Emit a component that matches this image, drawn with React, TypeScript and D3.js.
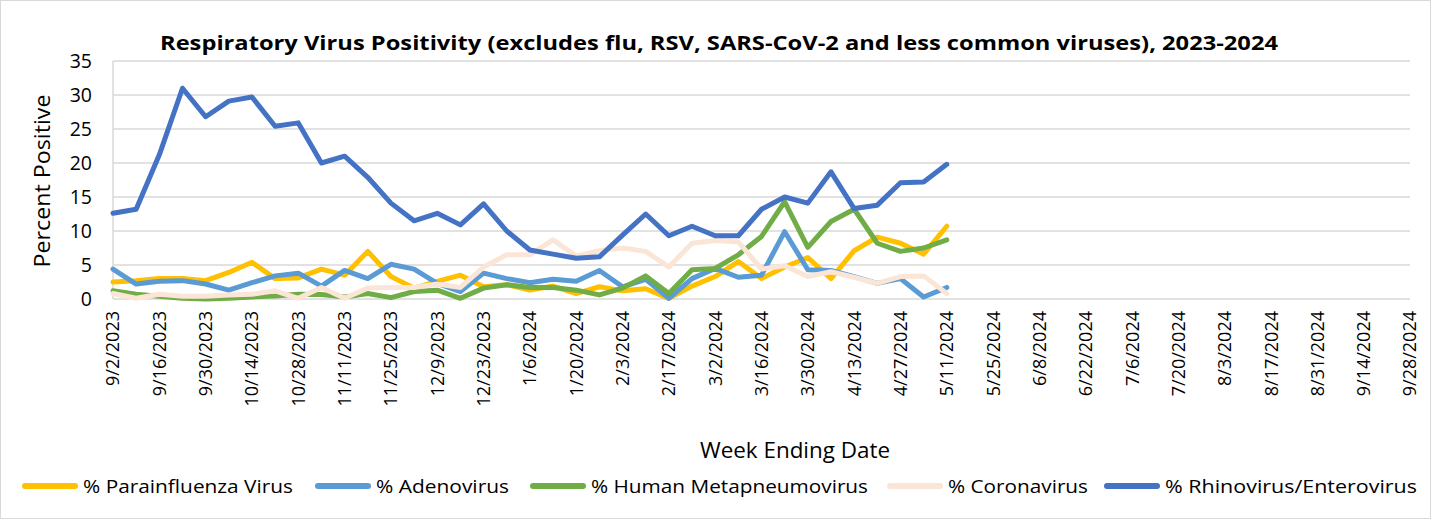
import React, { useEffect } from 'react';
import * as d3 from 'd3';

// week ending dates, 9/2/2023 .. 9/28/2024
const weeks = [
  '9/2/2023', '9/9/2023', '9/16/2023', '9/23/2023', '9/30/2023', '10/7/2023', '10/14/2023', '10/21/2023',
  '10/28/2023', '11/4/2023', '11/11/2023', '11/18/2023', '11/25/2023', '12/2/2023', '12/9/2023', '12/16/2023',
  '12/23/2023', '12/30/2023', '1/6/2024', '1/13/2024', '1/20/2024', '1/27/2024', '2/3/2024', '2/10/2024',
  '2/17/2024', '2/24/2024', '3/2/2024', '3/9/2024', '3/16/2024', '3/23/2024', '3/30/2024', '4/6/2024',
  '4/13/2024', '4/20/2024', '4/27/2024', '5/4/2024', '5/11/2024', '5/18/2024', '5/25/2024', '6/1/2024',
  '6/8/2024', '6/15/2024', '6/22/2024', '6/29/2024', '7/6/2024', '7/13/2024', '7/20/2024', '7/27/2024',
  '8/3/2024', '8/10/2024', '8/17/2024', '8/24/2024', '8/31/2024', '9/7/2024', '9/14/2024', '9/21/2024',
  '9/28/2024'
];

const yTicks = [0, 5, 10, 15, 20, 25, 30, 35];

const parainfluenza = [2.5, 2.7, 3.0, 3.0, 2.7, 3.9, 5.4, 3.0, 3.1, 4.4, 3.5, 7.0, 3.3, 1.6, 2.6, 3.5, 1.8, 2.1, 1.3, 1.9,
  0.8, 1.8, 1.2, 1.5, 0.1, 1.9, 3.3, 5.5, 3.0, 4.7, 6.1, 3.0, 7.1, 9.1, 8.2, 6.6, 10.7];
const adenovirus = [4.4, 2.2, 2.6, 2.7, 2.2, 1.3, 2.4, 3.4, 3.8, 1.9, 4.2, 3.0, 5.1, 4.4, 2.3, 1.1, 3.8, 3.0, 2.4, 2.9,
  2.6, 4.2, 1.8, 2.9, 0.1, 3.0, 4.5, 3.2, 3.5, 9.9, 4.3, 4.2, 3.3, 2.3, 3.0, 0.3, 1.7];
const hmpv = [1.2, 0.7, 0.4, 0.1, 0.0, 0.1, 0.3, 0.45, 0.7, 0.65, 0.3, 0.8, 0.2, 1.1, 1.3, 0.1, 1.6, 2.1, 1.7, 1.7,
  1.3, 0.6, 1.6, 3.4, 0.8, 4.3, 4.5, 6.5, 9.2, 14.3, 7.6, 11.4, 13.2, 8.2, 7.0, 7.5, 8.7];
const coronavirus = [0.8, 0.1, 0.7, 0.4, 0.4, 0.6, 0.7, 1.2, 0.1, 1.7, 0.1, 1.6, 1.7, 1.7, 2.2, 1.7, 4.7, 6.5, 6.5, 8.7,
  6.3, 7.1, 7.5, 7.0, 4.7, 8.2, 8.6, 8.4, 4.4, 4.9, 3.3, 4.0, 3.2, 2.3, 3.3, 3.4, 0.8];
const rhinovirus = [12.6, 13.2, 21.2, 31.0, 26.8, 29.1, 29.7, 25.4, 25.9, 20.0, 21.0, 17.9, 14.1, 11.5, 12.6, 10.9, 14.0,
  10.0, 7.2, 6.6, 6.0, 6.2, 9.4, 12.5, 9.3, 10.7, 9.3, 9.3, 13.2, 15.0, 14.1, 18.7, 13.3, 13.8, 17.1, 17.2, 19.8];

const seriesNames = ['% Parainfluenza Virus', '% Adenovirus', '% Human Metapneumovirus', '% Coronavirus', '% Rhinovirus/Enterovirus'];
const seriesValues = [parainfluenza, adenovirus, hmpv, coronavirus, rhinovirus];
const colors = ['#FFC000', '#5B9BD5', '#70AD47', '#FBE5D6', '#4472C4'];

const W = 1432, H = 520;
const font = '"Open Sans", "Liberation Sans", sans-serif';

export default function App() {
  useEffect(() => {
    document.body.style.margin = '0';
  }, []);

  const x = d3.scalePoint<string>().domain(weeks).range([113, 1410]);
  const y = d3.scaleLinear().domain([0, 35]).range([299, 61]);
  const line = d3.line<number>()
    .x((d, i) => x(weeks[i]) as number)
    .y(d => y(d));

  // legend layout (sample start, text width)
  const legendX = [25, 318, 533, 890, 1107];
  const legendW = [210, 133, 277, 140, 252];

  return (
    <svg width={W} height={H} style={{ display: 'block', background: '#fff' }} fontFamily={font}>
      <rect x={0.5} y={0.5} width={W - 2} height={H - 2} fill="#fff" stroke="#D9D9D9" />
      <text x={719} y={50} textAnchor="middle" fontSize={20} fontWeight="bold" fill="#000"
        textLength={1118} lengthAdjust="spacingAndGlyphs">
        Respiratory Virus Positivity (excludes flu, RSV, SARS-CoV-2 and less common viruses), 2023-2024
      </text>

      {yTicks.map(t => (
        <g key={t}>
          <line x1={113} x2={1410} y1={y(t)} y2={y(t)} stroke="#D9D9D9" strokeWidth={1.5} />
          <text x={92} y={y(t)} dy="0.35em" textAnchor="end" fontSize={19.5} fill="#000">{t}</text>
        </g>
      ))}
      <line x1={113} x2={113} y1={61} y2={299} stroke="#D9D9D9" strokeWidth={1.5} />

      <text transform={`translate(50,181) rotate(-90)`} textAnchor="middle" fontSize={21} fill="#000"
        textLength={173} lengthAdjust="spacingAndGlyphs">Percent Positive</text>

      {weeks.map((w, i) => i % 2 === 0 ? (
        <text key={w} transform={`translate(${x(w)},311) rotate(-90)`} dy="0.36em" textAnchor="end" fontSize={18} fill="#000">{w}</text>
      ) : null)}

      <text x={795} y={458} textAnchor="middle" fontSize={22} fill="#000"
        textLength={190} lengthAdjust="spacingAndGlyphs">Week Ending Date</text>

      {seriesValues.map((vals, k) => (
        <path key={k} d={line(vals) || ''} fill="none" stroke={colors[k]} strokeWidth={5}
          strokeLinejoin="round" strokeLinecap="round" />
      ))}

      {seriesNames.map((name, k) => (
        <g key={name} transform={`translate(${legendX[k]},486)`}>
          <line x1={0} x2={50} y1={0} y2={0} stroke={colors[k]} strokeWidth={6} strokeLinecap="round" />
          <text x={58} y={0} dy="0.35em" fontSize={19} fill="#000"
            textLength={legendW[k]} lengthAdjust="spacingAndGlyphs">{name}</text>
        </g>
      ))}
    </svg>
  );
}
